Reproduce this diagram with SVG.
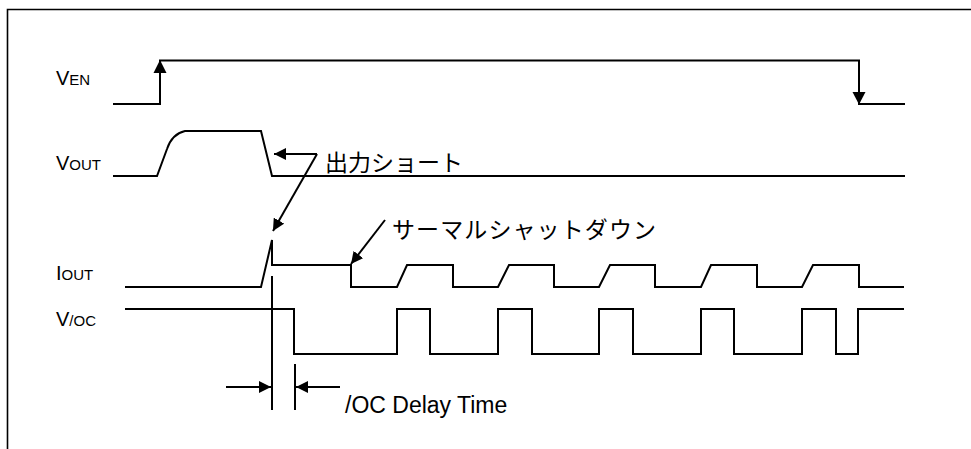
<svg xmlns="http://www.w3.org/2000/svg" width="971" height="449" viewBox="0 0 971 449">
<style>
.w{fill:none;stroke:#000;stroke-width:2;stroke-linejoin:miter}
.c{fill:none;stroke:#000;stroke-width:2}
.t{font-family:"Liberation Sans","Noto Sans CJK JP",Arial,sans-serif;fill:#000}
.lb{font-size:20px}
.sb{font-size:15px}
.ann{font-size:23px}
</style>
<defs>
<marker id="ah" markerWidth="12" markerHeight="12" refX="12" refY="6" orient="auto" markerUnits="userSpaceOnUse">
<path d="M0,0 L12,6 L0,12 Z" fill="#000"/>
</marker>
</defs>
<rect width="971" height="449" fill="#fff"/>
<path d="M7.5,449 V9.5 H971" fill="none" stroke="#000" stroke-width="1.6"/>

<g id="ven">
<text class="t" x="56" y="85"><tspan class="lb">V</tspan><tspan class="sb">EN</tspan></text>
<path class="w" d="M113,104 H160 V60.5 H859 V104 H905"/>
<path d="M153.5,73 L160,60 L166.5,73 Z" fill="#000"/>
<path d="M852.5,92 L859,104.5 L865.5,92 Z" fill="#000"/>
</g>

<g id="vout">
<text class="t" x="56" y="170"><tspan class="lb">V</tspan><tspan class="sb">OUT</tspan></text>
<path class="w" d="M113,176 H157 L167,149 Q172,134 185,131 H261 L272,176 H905"/>
</g>

<g id="iout">
<text class="t" x="56" y="280"><tspan class="lb">I</tspan><tspan class="sb">OUT</tspan></text>
<path class="w" d="M125,287 H261 L272,240 V265 H351 V287 H397 L407,265 H453 V287 H498 L509,265 H554 V287 H599 L610,265 H655 V287 H701 L711,265 H757 V287 H802 L813,265 H859 V287 H904"/>
</g>

<g id="voc">
<text class="t" x="56" y="326"><tspan class="lb">V</tspan><tspan class="sb">/OC</tspan></text>
<path class="w" d="M125,309 H294 V354 H397 V309 H430 V354 H498 V309 H532 V354 H599 V309 H633 V354 H701 V309 H734 V354 H802 V309 H836 V354 H858 V309 H904"/>
</g>

<g id="delay">
<line class="c" x1="272" y1="276" x2="272" y2="410"/>
<line class="c" x1="295" y1="364" x2="295" y2="410"/>
<text class="t ann" x="345" y="413">/OC Delay Time</text>
</g>

<g id="label-short">
<text class="t ann" x="325" y="171">出力ショート</text>
</g>

<g id="label-thermal">
<text class="t ann" x="392" y="238" letter-spacing="1.1">サーマルシャットダウン</text>
</g>

<g id="connectors">
<path class="c" d="M317,154 H274" marker-end="url(#ah)"/>
<path class="c" d="M317,154 L273,231" marker-end="url(#ah)"/>
<path class="c" d="M385,220 L351,264" marker-end="url(#ah)"/>
<path class="c" d="M226,387 H271" marker-end="url(#ah)"/>
<path class="c" d="M340,387 H296" marker-end="url(#ah)"/>
</g>
</svg>
